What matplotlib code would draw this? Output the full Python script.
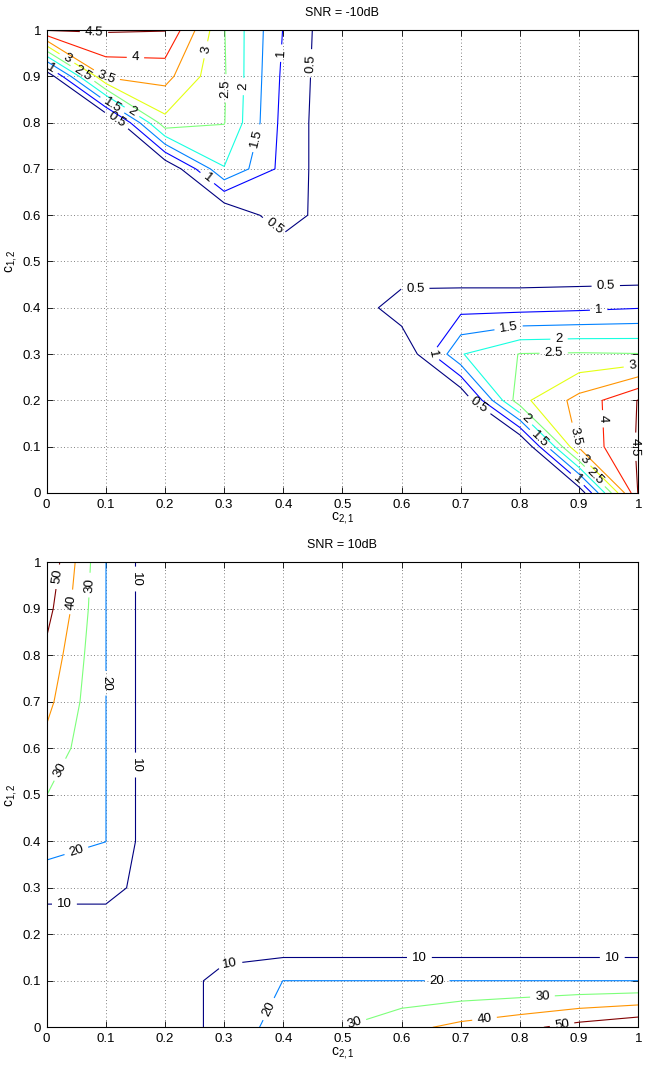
import numpy as np
import matplotlib
matplotlib.use("Agg")
import matplotlib.pyplot as plt
from matplotlib.ticker import FormatStrFormatter

plt.rcParams['font.family'] = ['Liberation Sans', 'DejaVu Sans']
plt.rcParams['mathtext.fontset'] = 'custom'
plt.rcParams['mathtext.rm'] = 'Liberation Sans'
plt.rcParams['mathtext.it'] = 'Liberation Sans:italic'
plt.rcParams['mathtext.default'] = 'regular'

# grid of c_{2,1} (x) and c_{1,2} (y)
c21 = [0, 0.1, 0.2, 0.3, 0.4, 0.5, 0.6, 0.7, 0.8, 0.9, 1.0]
c12 = [0, 0.1, 0.2, 0.3, 0.4, 0.5, 0.6, 0.7, 0.8, 0.9, 1.0]

# SNR = -10dB, rows = c12 from 0 to 1, columns = c21 from 0 to 1
z_lo = [
    [0, 0, 0, 0, 0, 0, 0, 0, 0, 0.05, 4.54],
    [0, 0, 0, 0, 0, 0, 0, -0.2, -0.3, 3.6, 4.55],
    [0, 0, 0, 0, 0, 0, 0, -0.05, 2.85, 3.67, 4.52],
    [0, 0, 0, 0, 0, 0, -0.03, 1.97, 2.52, 2.55, 2.52],
    [0, 0, 0, 0, 0, -0.04, 0.85, 0.84, 0.84, 0.9, 0.98],
    [0, 0, 0, 0, -0.04, 0, 0, 0.05, 0.05, 0.03, 0],
    [0, 0, 0, -0.03, 0.85, 0, 0, 0, 0, 0, 0],
    [0, -0.2, -0.05, 1.97, 0.84, 0.05, 0, 0, 0, 0, 0],
    [0, -0.3, 2.85, 2.52, 0.84, 0.05, 0, 0, 0, 0, 0],
    [0.05, 3.6, 3.67, 2.55, 0.9, 0.03, 0, 0, 0, 0, 0],
    [4.54, 4.55, 4.52, 2.52, 0.98, 0, 0, 0, 0, 0, 0],
]
levels_lo = [0.5, 1, 1.5, 2, 2.5, 3, 3.5, 4, 4.5]

# SNR = 10dB
z_hi = [
    [0, 0, 0, 15.4, 23.1, 30.05, 36.9, 42.8, 47.5, 53.7, 58.5],
    [0, 0, 0, 15.4, 20.05, 20.05, 20.05, 20.05, 20.05, 20.05, 20.05],
    [0, 0, 0, 0, 0, 0, 0, 0, 0, 0, 0],
    [15.4, 15.4, 0, 0, 0, 0, 0, 0, 0, 0, 0],
    [23.1, 20.05, 0, 0, 0, 0, 0, 0, 0, 0, 0],
    [30.05, 20.05, 0, 0, 0, 0, 0, 0, 0, 0, 0],
    [36.9, 20.05, 0, 0, 0, 0, 0, 0, 0, 0, 0],
    [42.8, 20.05, 0, 0, 0, 0, 0, 0, 0, 0, 0],
    [47.5, 20.05, 0, 0, 0, 0, 0, 0, 0, 0, 0],
    [53.7, 20.05, 0, 0, 0, 0, 0, 0, 0, 0, 0],
    [58.5, 20.05, 0, 0, 0, 0, 0, 0, 0, 0, 0],
]
levels_hi = [10, 20, 30, 40, 50]

# where the inline labels sit
lab_lo = [(0.08, 0.997), (0.15, 0.939), (0.10, 0.897), (0.034, 0.938),
          (0.06, 0.905), (0.006, 0.916), (0.11, 0.836), (0.143, 0.821),
          (0.118, 0.804), (0.27, 0.957), (0.302, 0.874), (0.333, 0.878),
          (0.355, 0.766), (0.27, 0.678), (0.396, 0.95), (0.447, 0.928),
          (0.385, 0.577),
          (0.623, 0.44), (0.945, 0.446), (0.933, 0.395), (0.652, 0.30),
          (0.78, 0.363), (0.866, 0.332), (0.857, 0.300), (0.99, 0.273),
          (0.731, 0.19), (0.808, 0.158), (0.833, 0.114), (0.893, 0.122),
          (0.936, 0.16), (0.996, 0.1), (0.908, 0.071), (0.926, 0.035),
          (0.896, 0.028)]
lab_hi = [(0.018, 0.969), (0.04, 0.915), (0.072, 0.951), (0.151, 0.964),
          (0.1, 0.74), (0.151, 0.564), (0.024, 0.553), (0.05, 0.38),
          (0.03, 0.267),
          (0.31, 0.134), (0.63, 0.15), (0.956, 0.15), (0.66, 0.1),
          (0.374, 0.04), (0.52, 0.009), (0.838, 0.066), (0.74, 0.019),
          (0.871, 0.006)]

fig = plt.figure(figsize=(6.52, 10.68), dpi=100)
ax1 = fig.add_axes([0.0716, 0.5384, 0.9074, 0.4335])
ax2 = fig.add_axes([0.0716, 0.0381, 0.9074, 0.4354])

panels = [(ax1, z_lo, levels_lo, lab_lo, 'SNR = -10dB', False),
          (ax2, z_hi, levels_hi, lab_hi, 'SNR = 10dB', True)]

for ax, z, lev, lab, title, clip in panels:
    cs = ax.contour(c21, c12, np.array(z), levels=lev, cmap='jet', linewidths=0.8)
    txt = ax.clabel(cs, manual=lab, inline=True, fontsize=9.5, fmt='%g', colors='k')
    for t in txt:
        t.set_clip_on(clip)
    ax.set_xlim(0, 1)
    ax.set_ylim(0, 1)
    ax.set_xticks(c21)
    ax.set_yticks(c12)
    ax.xaxis.set_major_formatter(FormatStrFormatter('%g'))
    ax.yaxis.set_major_formatter(FormatStrFormatter('%g'))
    ax.grid(True, linestyle=(0, (1, 3)), color='0.35', linewidth=0.6)
    ax.tick_params(direction='in', top=True, right=True, length=4, width=0.6,
                   labelsize=9.5, pad=4)
    for s in ax.spines.values():
        s.set_linewidth(0.8)
    ax.set_title(title, fontsize=9, pad=10)
    ax.set_xlabel('c$_{2,1}$', fontsize=10, va='top')
    ax.xaxis.set_label_coords(0.5, -0.037)
    ax.set_ylabel('c$_{1,2}$', fontsize=10)
    ax.yaxis.set_label_coords(-0.046, 0.5)

fig.savefig('out.png', dpi=100)
